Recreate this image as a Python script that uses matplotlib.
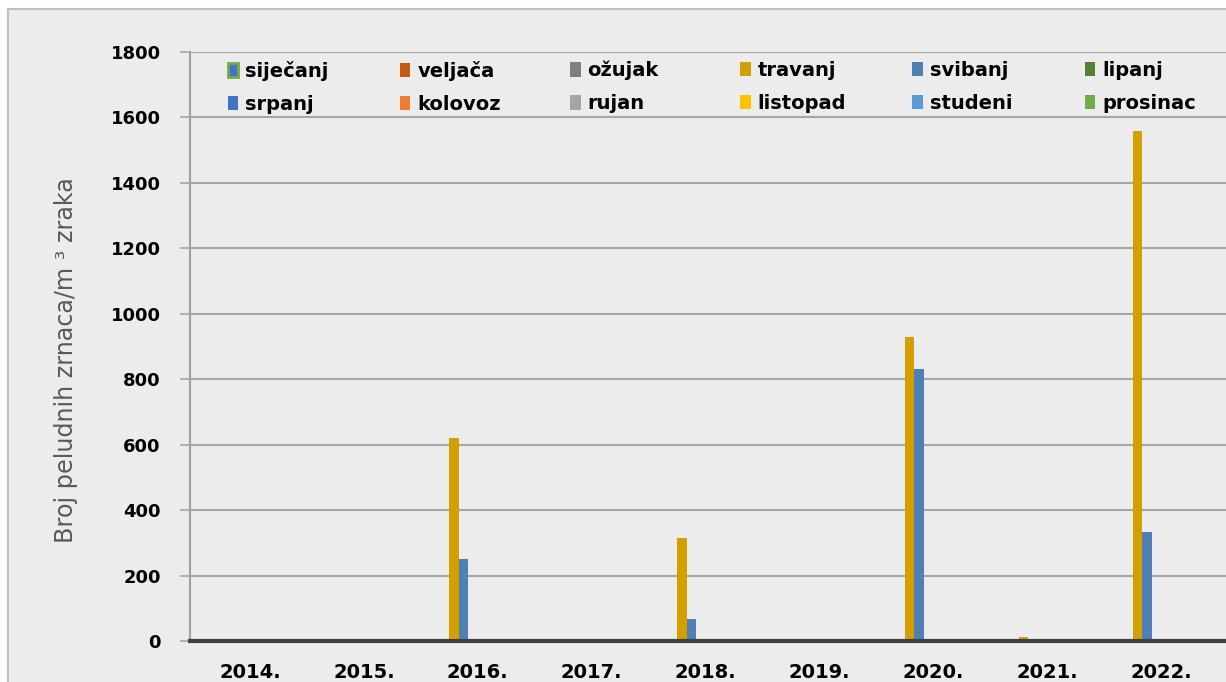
import matplotlib
matplotlib.use("Agg")
from matplotlib import pyplot as plt
from matplotlib.patches import Rectangle, Patch
from matplotlib.legend import Legend
import numpy as np

plt.rcParams['font.family'] = ['DejaVu Sans']

years = ["2014.", "2015.", "2016.", "2017.", "2018.", "2019.", "2020.", "2021.", "2022."]
months = ["siječanj", "veljača", "ožujak", "travanj", "svibanj", "lipanj",
          "srpanj", "kolovoz", "rujan", "listopad", "studeni", "prosinac"]
colors = ["#4472C4", "#C55A11", "#7F7F7F", "#D4A000", "#4E80B5", "#548235",
          "#4472C4", "#ED7D31", "#A5A5A5", "#FFC000", "#5B9BD5", "#70AD47"]

# values per month, one entry per year
zeros = [0, 0, 0, 0, 0, 0, 0, 0, 0]
ozujak = [0, 0, 0, 0, 0, 0, 0, 0, 3]
travanj = [0, 0, 620, 0, 315, 0, 928, 12, 1560]
svibanj = [0, 0, 250, 0, 67, 0, 832, 0, 333]

values = [zeros, zeros, ozujak, travanj, svibanj, zeros,
          zeros, zeros, zeros, zeros, zeros, zeros]

fig = plt.figure(figsize=(12.26, 6.82), dpi=100)
fig.patch.set_facecolor("white")
fig.patches.append(Rectangle((8/1226, -0.1), 1.2, 1 - 9/682 + 0.1, transform=fig.transFigure,
                             facecolor="#ececec", edgecolor="#c0c0c0", lw=1.5, zorder=-10))

ax = fig.add_axes([190/1226, 1 - 641/682, 1 - 190/1226 + 0.001, (641 - 52)/682])
ax.set_facecolor("none")

x = np.arange(len(years))
w = 0.0835
for i, m in enumerate(months):
    ax.bar(x + (i - 5.5)*w, values[i], w, color=colors[i], zorder=3)

ax.set_xlim(-0.527, 8.58)
ax.set_ylim(0, 1800)
ax.set_yticks(np.arange(0, 1801, 200))
ax.set_xticks(x)
ax.set_xticklabels(years)
ax.yaxis.grid(True, color="#a6a6a6", lw=1.5, zorder=0)
ax.tick_params(axis="y", length=7, width=1.2, color="#a6a6a6", pad=14, labelsize=13)
ax.tick_params(axis="x", length=0, pad=16, labelsize=14)
for lab in ax.get_xticklabels() + ax.get_yticklabels():
    lab.set_fontweight("bold")
for s in ["top", "right"]:
    ax.spines[s].set_visible(False)
ax.spines["left"].set_color("#a0a0a0")
ax.spines["left"].set_linewidth(1.5)
ax.spines["bottom"].set_color("#404040")
ax.spines["bottom"].set_linewidth(3)
ax.spines["bottom"].set_zorder(4)

ax.set_ylabel("Broj peludnih zrnaca/m ³ zraka", fontsize=17.2, color="#595959")
ax.yaxis.set_label_coords(-0.108, 0.477)

# legend: one small legend per column so the columns are evenly spaced
col_x = [228, 400, 570, 740, 912, 1084]
for c in range(6):
    handles = []
    labels = []
    for k in (c, c + 6):
        if k == 0:
            handles.append(Patch(facecolor=colors[k], edgecolor="#70AD47", lw=2))
        else:
            handles.append(Patch(facecolor=colors[k]))
        labels.append(months[k])
    leg = Legend(ax, handles, labels, loc="upper left",
                 bbox_to_anchor=((col_x[c] - 190 - 18) / 1036, 1.015),
                 frameon=False, handlelength=0.55, handleheight=0.75, handletextpad=0.35,
                 labelspacing=0.72, prop={"weight": "bold", "size": 14})
    ax.add_artist(leg)

fig.savefig("out.png", dpi=100)
